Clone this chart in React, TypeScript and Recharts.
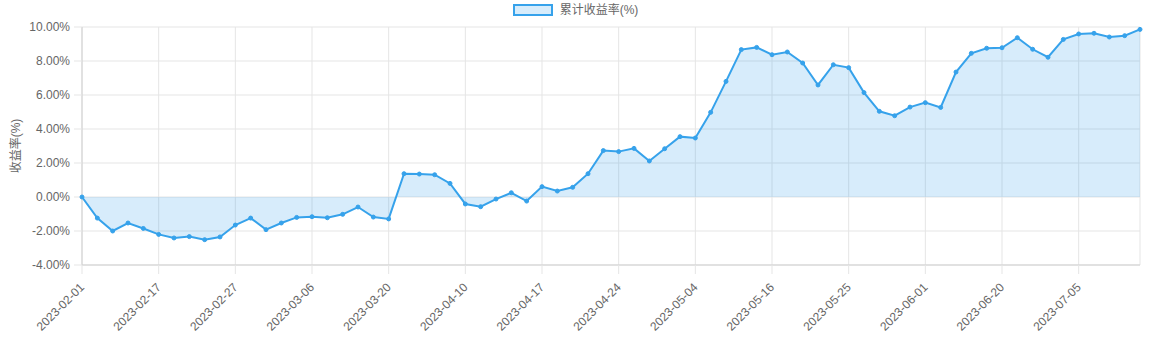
import React from 'react';
import { AreaChart, Area, XAxis, YAxis, CartesianGrid, Legend } from 'recharts';

const dates = [
  '2023-02-01', '2023-02-03', '2023-02-07', '2023-02-09', '2023-02-14',
  '2023-02-17', '2023-02-20', '2023-02-21', '2023-02-23', '2023-02-24',
  '2023-02-27', '2023-02-28', '2023-03-01', '2023-03-02', '2023-03-03',
  '2023-03-06', '2023-03-08', '2023-03-10', '2023-03-14', '2023-03-16',
  '2023-03-20', '2023-03-23', '2023-03-28', '2023-03-31', '2023-04-06',
  '2023-04-10', '2023-04-11', '2023-04-12', '2023-04-13', '2023-04-14',
  '2023-04-17', '2023-04-18', '2023-04-19', '2023-04-20', '2023-04-21',
  '2023-04-24', '2023-04-25', '2023-04-26', '2023-04-27', '2023-04-28',
  '2023-05-04', '2023-05-05', '2023-05-09', '2023-05-11', '2023-05-15',
  '2023-05-16', '2023-05-18', '2023-05-19', '2023-05-22', '2023-05-24',
  '2023-05-25', '2023-05-26', '2023-05-29', '2023-05-30', '2023-05-31',
  '2023-06-01', '2023-06-06', '2023-06-09', '2023-06-14', '2023-06-16',
  '2023-06-20', '2023-06-26', '2023-06-28', '2023-06-30', '2023-07-04',
  '2023-07-05', '2023-07-07', '2023-07-11', '2023-07-13', '2023-07-17',
];

// cumulative return, %
const returns = [
  0.0, -1.24, -2.0, -1.53, -1.85, -2.2, -2.41, -2.33, -2.51, -2.35,
  -1.65, -1.24, -1.92, -1.53, -1.2, -1.16, -1.22, -1.02, -0.59, -1.18,
  -1.29, 1.37, 1.35, 1.31, 0.8, -0.41, -0.57, -0.12, 0.25, -0.24,
  0.61, 0.35, 0.57, 1.37, 2.73, 2.67, 2.86, 2.12, 2.84, 3.55,
  3.47, 4.98, 6.8, 8.67, 8.8, 8.37, 8.53, 7.88, 6.59, 7.78,
  7.61, 6.14, 5.04, 4.78, 5.29, 5.55, 5.27, 7.35, 8.45, 8.75,
  8.78, 9.37, 8.69, 8.22, 9.27, 9.59, 9.63, 9.41, 9.49, 9.86,
];

const xTicks = [
  '2023-02-01', '2023-02-17', '2023-02-27', '2023-03-06', '2023-03-20',
  '2023-04-10', '2023-04-17', '2023-04-24', '2023-05-04', '2023-05-16',
  '2023-05-25', '2023-06-01', '2023-06-20', '2023-07-05',
];

const yTicks = [-4, -2, 0, 2, 4, 6, 8, 10];

const seriesName = '累计收益率(%)';
const axisTitle = '收益率(%)';

const data = dates.map((date, i) => ({ date, value: returns[i] }));

const BLUE = '#36a2eb';
const GRID = '#e5e5e5';
const TEXT = '#666';
const FONT = '"Liberation Sans", Arial, "Noto Sans CJK SC", sans-serif';

const DateTick = (props: any) => {
  const { x, y, payload } = props;
  return (
    <g transform={`translate(${x - 3},${y + 6})`}>
      <text
        textAnchor="end"
        transform="rotate(-45)"
        fontSize={12}
        fill={TEXT}
        fontFamily={FONT}
        dy="0.71em"
      >
        {payload.value}
      </text>
    </g>
  );
};

const LegendBox = () => (
  <div
    style={{
      height: 27,
      display: 'flex',
      justifyContent: 'center',
      alignItems: 'flex-start',
      paddingTop: 4,
      paddingLeft: 11,
      boxSizing: 'border-box',
      fontFamily: FONT,
      fontSize: 12,
      color: TEXT,
    }}
  >
    <span
      style={{
        width: 36,
        height: 8,
        border: `2px solid ${BLUE}`,
        background: 'rgba(54,162,235,0.2)',
        marginRight: 7,
      }}
    />
    <span style={{ lineHeight: '12px' }}>{seriesName}</span>
  </div>
);

const AxisTitle = (props: any) => {
  const { viewBox } = props;
  const cy = viewBox.y + viewBox.height / 2;
  return (
    <text
      x={16}
      y={cy}
      transform={`rotate(-90, 16, ${cy})`}
      textAnchor="middle"
      dominantBaseline="central"
      fontSize={12}
      fill={TEXT}
      fontFamily={FONT}
    >
      {axisTitle}
    </text>
  );
};

export default function App() {
  return (
    <div style={{ position: 'absolute', left: 0, top: 0, background: '#fff' }}>
      <AreaChart
        width={1149}
        height={337}
        data={data}
        margin={{ top: 0, right: 9, bottom: 0, left: 0 }}
      >
        <CartesianGrid stroke={GRID} />
        <XAxis
          dataKey="date"
          ticks={xTicks}
          interval={0}
          height={72}
          tickSize={9}
          stroke={GRID}
          tickLine={{ stroke: GRID }}
          axisLine={{ stroke: '#d0d0d0' }}
          tick={<DateTick />}
        />
        <YAxis
          domain={[-4, 10]}
          ticks={yTicks}
          width={82}
          tickSize={8}
          tickMargin={4}
          tickLine={{ stroke: GRID }}
          axisLine={{ stroke: '#d0d0d0' }}
          tick={{ fontSize: 12, fill: TEXT, fontFamily: FONT }}
          tickFormatter={(v: number) => `${v.toFixed(2)}%`}
          label={{ content: <AxisTitle /> }}
        />
        <Legend verticalAlign="top" align="center" content={<LegendBox />} />
        <Area
          type="linear"
          dataKey="value"
          name={seriesName}
          baseValue={0}
          stroke={BLUE}
          strokeWidth={2}
          fill={BLUE}
          fillOpacity={0.2}
          dot={{ r: 2, fill: BLUE, stroke: BLUE, strokeWidth: 1, fillOpacity: 1 }}
          activeDot={false}
          isAnimationActive={false}
        />
      </AreaChart>
    </div>
  );
}
